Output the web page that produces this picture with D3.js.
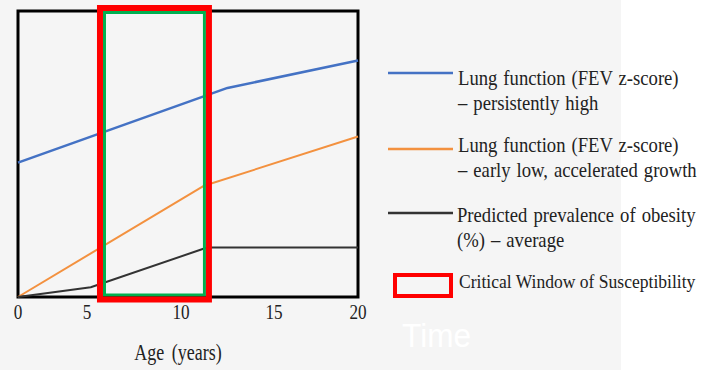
<!DOCTYPE html>
<html>
<head>
<meta charset="utf-8">
<script src="https://cdn.jsdelivr.net/npm/d3@7"></script>
<style>
  body { margin: 0; background: #ffffff; }
  text { font-family: "Liberation Serif", "Times New Roman", serif; fill: #222; }
</style>
</head>
<body>
<div id="chart-area"></div>
<script>
// ages on the x axis
let ageTicks = [0, 5, 10, 15, 20];

// series (age, relative value)
let blueAges = [0, 12.5, 20];
let blueValues = [4.70, 7.31, 8.27];

let orangeAges = [0, 11.2, 20];
let orangeValues = [0, 3.88, 5.61];

let blackAges = [0, 5.2, 11.4, 20];
let blackValues = [0, 0.34, 1.73, 1.73];

// critical window of susceptibility (age range)
let criticalWindow = [5.93, 11.26];

let seriesNames = [
    ["Lung function (FEV z-score)", "\u2013 persistently high"],
    ["Lung function (FEV z-score)", "\u2013 early low, accelerated growth"],
    ["Predicted prevalence of obesity", "(%) \u2013 average"]
];
let seriesColors = ["#4472c4", "#f3913f", "#333333"];
let windowLabel = "Critical Window of Susceptibility";

let width = 708, height = 370;

let svg = d3.select("#chart-area")
        .append("svg")
        .attr("width", width)
        .attr("height", height);

// slide background
svg.append("rect").attr("width", width).attr("height", height).attr("fill", "#ffffff");
svg.append("rect").attr("width", 621).attr("height", height).attr("fill", "#f5f5f5");

// x scale is piecewise so the hand-placed tick labels line up
let x = d3.scaleLinear()
        .domain(ageTicks)
        .range([18, 87, 181, 274, 358]);

let y = d3.scaleLinear()
        .domain([0, 10])
        .range([297, 11]);

// plot frame
svg.append("rect")
    .attr("x", x(0))
    .attr("y", y(10))
    .attr("width", x(20) - x(0))
    .attr("height", y(0) - y(10))
    .attr("fill", "none")
    .attr("stroke", "#000")
    .attr("stroke-width", 3);

let line = d3.line()
        .x(function(d){ return x(d[0]); })
        .y(function(d){ return y(d[1]); });

let series = [
    d3.zip(blueAges, blueValues),
    d3.zip(orangeAges, orangeValues),
    d3.zip(blackAges, blackValues)
];
let widths = [2.5, 2, 2];

svg.selectAll("path.series")
    .data(series)
    .enter()
    .append("path")
    .attr("class", "series")
    .attr("d", line)
    .attr("fill", "none")
    .attr("stroke", function(d, i){ return seriesColors[i]; })
    .attr("stroke-width", function(d, i){ return widths[i]; })
    .attr("stroke-linejoin", "round");

// critical window boxes
let gx0 = x(criticalWindow[0]), gx1 = x(criticalWindow[1]);
let gy0 = y(10) + 1.5, gy1 = y(0) - 2;
svg.append("rect")
    .attr("x", gx0).attr("y", gy0)
    .attr("width", gx1 - gx0).attr("height", gy1 - gy0)
    .attr("fill", "none")
    .attr("stroke", "#00b050")
    .attr("stroke-width", 3);
svg.append("rect")
    .attr("x", gx0 - 4.5).attr("y", gy0 - 4.5)
    .attr("width", gx1 - gx0 + 9).attr("height", gy1 - gy0 + 9)
    .attr("fill", "none")
    .attr("stroke", "#ff0000")
    .attr("stroke-width", 6);

// tick labels
svg.selectAll("text.tick")
    .data(ageTicks)
    .enter()
    .append("text")
    .attr("class", "tick")
    .attr("text-anchor", "middle")
    .attr("font-size", 22)
    .attr("transform", function(d){ return "translate(" + x(d) + ",319) scale(0.78,1)"; })
    .text(function(d){ return d; });

// axis title
svg.append("text")
    .attr("text-anchor", "middle")
    .attr("font-size", 24)
    .attr("word-spacing", 4)
    .attr("transform", "translate(178,360) scale(0.75,1)")
    .text("Age (years)");

// "Time" (white on the light background)
svg.append("text")
    .attr("font-size", 34)
    .style("font-family", "'Liberation Sans', Arial, sans-serif")
    .style("fill", "#ffffff")
    .attr("transform", "translate(402,347) scale(0.93,1)")
    .text("Time");

// legend
let legendY = [73, 149, 213];
let legendText = [85, 152, 222];

let legend = svg.selectAll("g.legend")
    .data(seriesNames)
    .enter()
    .append("g")
    .attr("class", "legend");

legend.append("line")
    .attr("x1", 388).attr("x2", 453)
    .attr("y1", function(d, i){ return legendY[i]; })
    .attr("y2", function(d, i){ return legendY[i]; })
    .attr("stroke", function(d, i){ return seriesColors[i]; })
    .attr("stroke-width", 2.5);

legend.each(function(d, i){
    let g = d3.select(this);
    d.forEach(function(t, j){
        g.append("text")
            .attr("font-size", 20.5)
            .attr("word-spacing", 1.5)
            .attr("transform", "translate(" + (i == 2 ? 457 : 458) + "," + (legendText[i] + j * 25) + ") scale(0.91,1)")
            .text(t);
    });
});

svg.append("rect")
    .attr("x", 395).attr("y", 275)
    .attr("width", 56).attr("height", 21)
    .attr("fill", "none")
    .attr("stroke", "#ff0000")
    .attr("stroke-width", 4);

svg.append("text")
    .attr("font-size", 19.5)
    .attr("transform", "translate(459,288) scale(0.9,1)")
    .text(windowLabel);
</script>
</body>
</html>
